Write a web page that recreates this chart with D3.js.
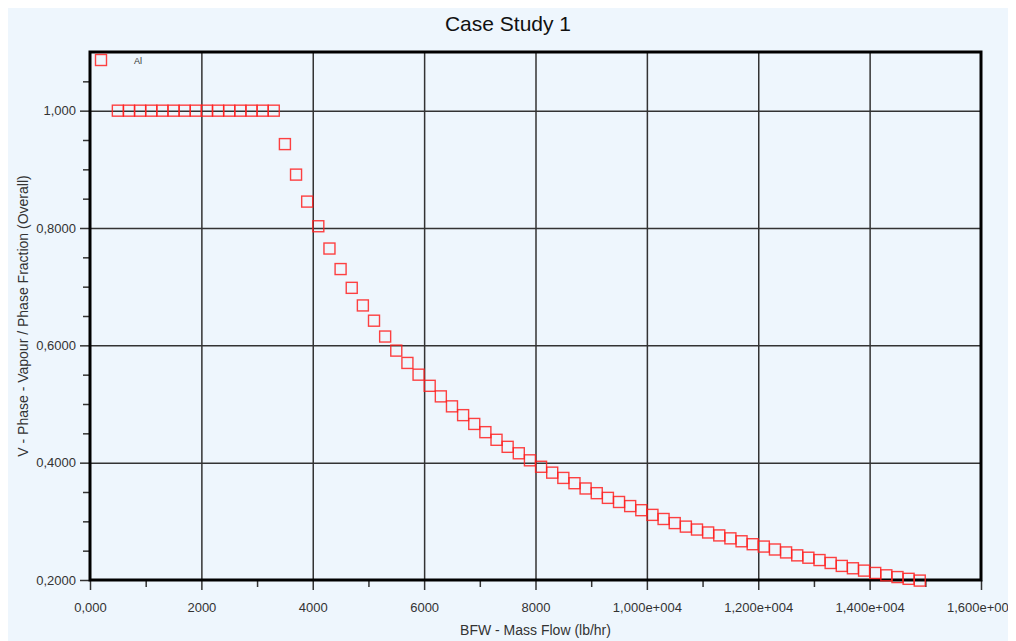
<!DOCTYPE html>
<meta charset="utf-8">
<title>Case Study 1</title>
<style>
    body { margin: 8px; background: #fff; overflow: hidden; }
    svg { display: block; font-family: "Liberation Sans", Arial, sans-serif; }
    .grid line { stroke: #333; stroke-width: 1.5px; }
    .grid path { display: none; }
    .axis path { display: none; }
    .axis line { stroke: #333; stroke-width: 1.5px; }
    .axis text { fill: #333; font-size: 13px; }
</style>
<body>
<div id="chart"></div>
<script src="https://d3js.org/d3.v7.min.js"></script>
<script>

// data
var massFlow = [500, 700, 900, 1100, 1300, 1500, 1700, 1900, 2100, 2300, 2500, 2700, 2900, 3100, 3300,
    3500, 3700, 3900, 4100, 4300, 4500, 4700, 4900, 5100, 5300, 5500, 5700, 5900, 6100, 6300,
    6500, 6700, 6900, 7100, 7300, 7500, 7700, 7900, 8100, 8300, 8500, 8700, 8900, 9100, 9300,
    9500, 9700, 9900, 10100, 10300, 10500, 10700, 10900, 11100, 11300, 11500, 11700, 11900, 12100,
    12300, 12500, 12700, 12900, 13100, 13300, 13500, 13700, 13900, 14100, 14300, 14500, 14700, 14900];

var vapourFraction = [1, 1, 1, 1, 1, 1, 1, 1, 1, 1, 1, 1, 1, 1, 1,
    0.943, 0.891, 0.845, 0.803, 0.765, 0.730, 0.698, 0.668, 0.642, 0.615, 0.591, 0.570, 0.550, 0.531, 0.513,
    0.496, 0.481, 0.466, 0.452, 0.439, 0.427, 0.416, 0.404, 0.393, 0.383, 0.374, 0.365, 0.356, 0.348, 0.340,
    0.333, 0.326, 0.319, 0.311, 0.304, 0.297, 0.291, 0.286, 0.281, 0.276, 0.271, 0.266, 0.261, 0.257,
    0.252, 0.247, 0.242, 0.238, 0.234, 0.229, 0.224, 0.220, 0.216, 0.212, 0.208, 0.205, 0.202, 0.199];

var xTicks = [0, 2000, 4000, 6000, 8000, 10000, 12000, 14000, 16000];
var xTickLabels = ["0,000", "2000", "4000", "6000", "8000", "1,000e+004", "1,200e+004", "1,400e+004", "1,600e+004"];
var xMinorTicks = [1000, 3000, 5000, 7000, 9000, 11000, 13000, 15000];

var yTicks = [0.2, 0.4, 0.6, 0.8, 1.0];
var yTickLabels = ["0,2000", "0,4000", "0,6000", "0,8000", "1,000"];
var yMinorTicks = [0.25, 0.3, 0.35, 0.45, 0.5, 0.55, 0.65, 0.7, 0.75, 0.85, 0.9, 0.95, 1.05];

var legendLabel = "Al";

// layout (svg origin sits at page 8,8)
var W = 1008, H = 633;
var margin = { top: 44, right: 35, bottom: 61, left: 82 },
    width = W - margin.left - margin.right,
    height = H - margin.top - margin.bottom;

var svg = d3.select("#chart").append("svg")
    .attr("width", W)
    .attr("height", H);

svg.append("rect")
    .attr("width", W).attr("height", H)
    .attr("fill", "#eef6fd");

var g = svg.append("g")
    .attr("transform", "translate(" + margin.left + "," + margin.top + ")");

var x = d3.scaleLinear().domain([0, 16000]).range([0, width]);
var y = d3.scaleLinear().domain([0.2, 1.1]).range([height, 0]);

// grid
g.append("g")
    .attr("class", "grid")
    .attr("transform", "translate(0," + height + ")")
    .call(d3.axisBottom(x).tickValues(xTicks.slice(1, -1)).tickSize(-height).tickFormat(""));
g.append("g")
    .attr("class", "grid")
    .call(d3.axisLeft(y).tickValues(yTicks.slice(1)).tickSize(-width).tickFormat(""));

// minor ticks
g.append("g")
    .attr("class", "axis")
    .attr("transform", "translate(0," + height + ")")
    .call(d3.axisBottom(x).tickValues(xMinorTicks).tickSize(7).tickFormat(""));
g.append("g")
    .attr("class", "axis")
    .call(d3.axisLeft(y).tickValues(yMinorTicks).tickSize(7).tickFormat(""));

// major ticks
g.append("g")
    .attr("class", "axis")
    .attr("transform", "translate(0," + height + ")")
    .call(d3.axisBottom(x).tickValues(xTicks).tickSize(10).tickPadding(13)
        .tickFormat(function (d, i) { return xTickLabels[i]; }));
g.append("g")
    .attr("class", "axis")
    .call(d3.axisLeft(y).tickValues(yTicks).tickSize(10).tickPadding(4)
        .tickFormat(function (d, i) { return yTickLabels[i]; }));

// frame
g.append("rect")
    .attr("width", width).attr("height", height)
    .attr("fill", "none")
    .attr("stroke", "#000")
    .attr("stroke-width", 3);

// points
g.selectAll(".pt")
    .data(massFlow)
    .enter().append("rect")
    .attr("class", "pt")
    .attr("x", function (d) { return x(d) - 5.5; })
    .attr("y", function (d, i) { return y(vapourFraction[i]) - 5.5; })
    .attr("width", 11).attr("height", 11)
    .attr("fill", "none")
    .attr("stroke", "#ff2020")
    .attr("stroke-opacity", 0.85)
    .attr("stroke-width", 1.4);

// legend
g.append("rect")
    .attr("x", 5.5).attr("y", 2.5)
    .attr("width", 11).attr("height", 11)
    .attr("fill", "none")
    .attr("stroke", "#ff2020")
    .attr("stroke-opacity", 0.85)
    .attr("stroke-width", 1.4);
g.append("text")
    .attr("x", 44).attr("y", 12)
    .attr("font-size", "9px")
    .attr("fill", "#333")
    .text(legendLabel);

// title
svg.append("text")
    .attr("x", 500).attr("y", 23)
    .attr("text-anchor", "middle")
    .attr("font-size", "21px")
    .attr("fill", "#111")
    .text("Case Study 1");

// axis titles
svg.append("text")
    .attr("x", margin.left + width / 2).attr("y", 627)
    .attr("text-anchor", "middle")
    .attr("font-size", "14px")
    .attr("fill", "#333")
    .text("BFW - Mass Flow (lb/hr)");

svg.append("text")
    .attr("transform", "translate(20," + (margin.top + height / 2) + ") rotate(-90)")
    .attr("text-anchor", "middle")
    .attr("font-size", "14px")
    .attr("fill", "#333")
    .text("V - Phase - Vapour / Phase Fraction (Overall)");

</script>
</body>
